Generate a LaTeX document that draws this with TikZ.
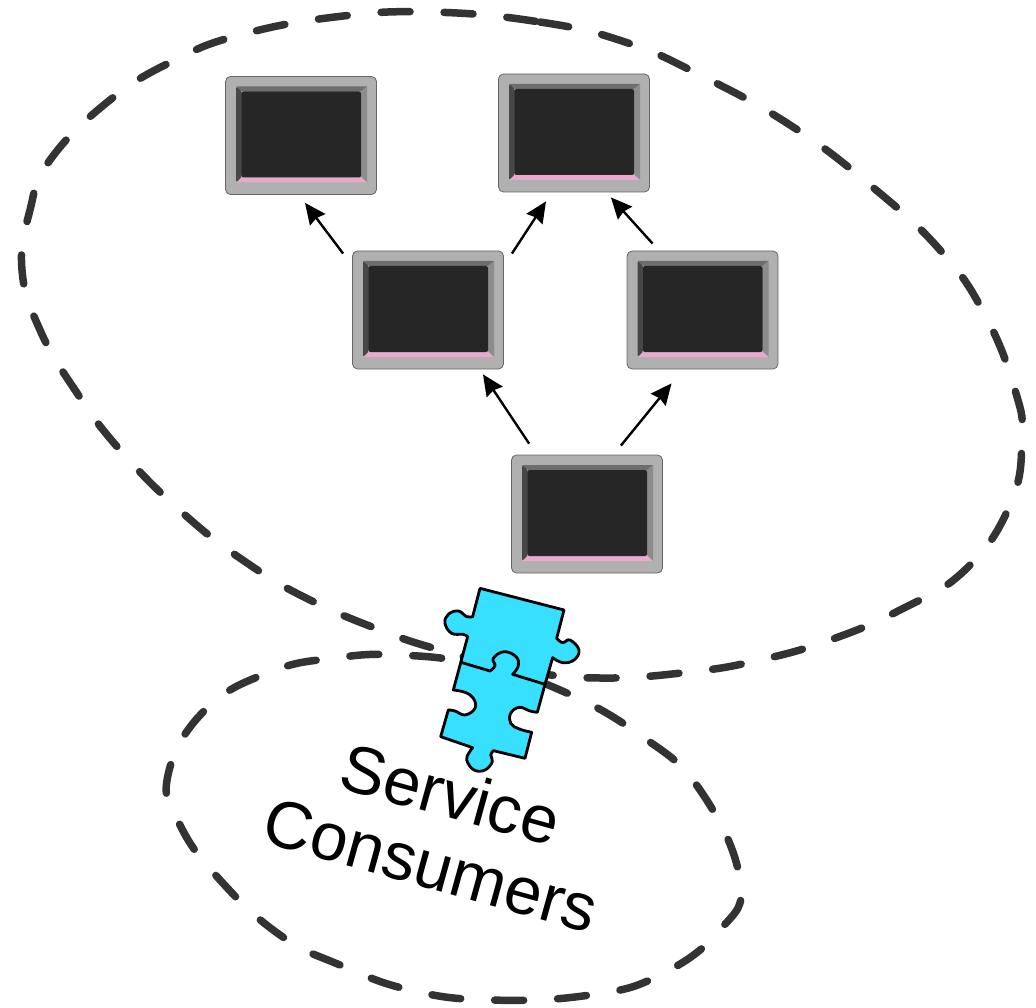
\documentclass[tikz,border=0pt]{standalone}
\usepackage{fontspec}
\setmainfont{Liberation Sans}
\usetikzlibrary{arrows.meta}
\definecolor{bezel}{HTML}{B0B0B0}
\definecolor{screen}{HTML}{262626}
\definecolor{dashc}{HTML}{333333}
\definecolor{jig}{HTML}{38E0FF}
\definecolor{pinkb}{HTML}{E8AACC}
\tikzset{
  monitor/.style={draw=black!60,line width=.8pt,fill=bezel,rounded corners=5pt,minimum width=151pt,minimum height=118pt,inner sep=0pt,
    path picture={
      \begin{scope}[shift={(path picture bounding box.center)},rounded corners=0pt]
        \fill[black!57] (-65,-49) -- (66,-49) -- (60,-44) -- (-59,-44) -- cycle;
        \fill[black!45] (66,-49) -- (66,47) -- (60,41) -- (60,-44) -- cycle;
        \fill[pinkb] (-59,42) -- (60,42) -- (66,47) -- (-65,47) -- cycle;
        \fill[black!72,rounded corners=2pt] (-65,-49) -- (-59,-44) -- (-59,41) -- (-65,47) -- cycle;
        \fill[screen,rounded corners=2pt] (-59.5,-44) rectangle (60,42);
      \end{scope}
    }},
  arr/.style={draw=black,line width=2.4pt,-{Stealth[inset=2pt,length=21pt,width=19pt]}},
  zone/.style={draw=dashc,line width=7.5pt,line cap=round,dash pattern=on 29pt off 34pt},
  jigsaw/.style={draw=black,line width=2.8pt,fill=jig,line join=round},
  jigline/.style={draw=black,line width=2.8pt,line join=round},
  lbl/.style={font=\fontsize{67}{73}\selectfont,align=center,rotate=-15.5,inner sep=0pt}
}
\begin{document}
\begin{tikzpicture}[x=1pt,y=-1pt]
\useasboundingbox (0,0) rectangle (1036,1008);
\draw[zone] plot[smooth cycle,tension=.75] coordinates {(430,12)(540,22)(625,42)(700,75)(790,125)(870,185)(940,250)(985,315)(1015,390)(1022,440)(1010,505)(965,570)(900,610)(830,640)(760,660)(690,672)(600,678)(520,670)(440,650)(380,630)(310,600)(250,565)(185,515)(120,450)(75,390)(40,330)(22,270)(30,210)(50,160)(110,100)(175,60)(240,35)(335,17)};
\draw[zone] plot[smooth cycle,tension=.75] coordinates {(400,655)(480,665)(560,690)(640,735)(700,790)(740,880)(720,930)(660,975)(590,995)(490,1000)(410,990)(340,965)(280,935)(220,880)(180,825)(168,775)(205,710)(270,672)(335,658)};
\node[monitor] (m1) at (301,135.5) {};
\node[monitor] (m2) at (574,133) {};
\node[monitor] (m3) at (428,310) {};
\node[monitor] (m4) at (702.5,310) {};
\node[monitor] (m5) at (587,514) {};
\draw[arr] ([shift={(-9,3)}]m3.north west) -- ([shift={(4,8)}]m1.south);
\draw[arr] ([shift={(8,3)}]m3.north east) -- ([shift={(-28,9)}]m2.south);
\draw[arr] ([shift={(26,-7)}]m4.north west) -- ([shift={(-39,5)}]m2.south east);
\draw[arr] ([shift={(18,-11)}]m5.north west) -- ([shift={(55,5)}]m3.south);
\draw[arr] ([shift={(-42,-9)}]m5.north east) -- ([shift={(-31,14)}]m4.south);
\begin{scope}[shift={(430,575)},x=.3333pt,y=-.3333pt]
\draw[jigsaw] (150,40) -- (402,105) -- (380,190)
  -- plot[smooth,tension=.7] coordinates {(380,190)(398,203)(420,195)(447,225)(432,255)(398,263)(368,248)}
  -- (345,328) -- (322,412)
  -- plot[smooth,tension=.7] coordinates {(322,412)(300,408)(268,397)(242,415)(242,445)(268,462)(305,472)}
  -- (285,550) -- (190,527)
  -- plot[smooth,tension=.7] coordinates {(190,527)(182,540)(187,560)(165,585)(132,585)(110,555)(118,532)(128,518)}
  -- (32,485) -- (55,405)
  -- plot[smooth,tension=.7] coordinates {(55,405)(75,408)(105,420)(135,400)(130,370)(105,352)(70,345)}
  -- (113,185)
  -- plot[smooth,tension=.7] coordinates {(113,185)(100,178)(65,175)(45,145)(55,118)(85,108)(110,125)(128,125)}
  -- cycle;
\draw[jigline] (93,262) -- (180,288)
  -- plot[smooth,tension=.7] coordinates {(180,288)(195,272)(190,250)(222,230)(258,245)(265,272)(248,298)}
  -- (345,328);
\end{scope}
\node[lbl] (t1) at (441,829) {Service\\Consumers};
\end{tikzpicture}
\end{document}
